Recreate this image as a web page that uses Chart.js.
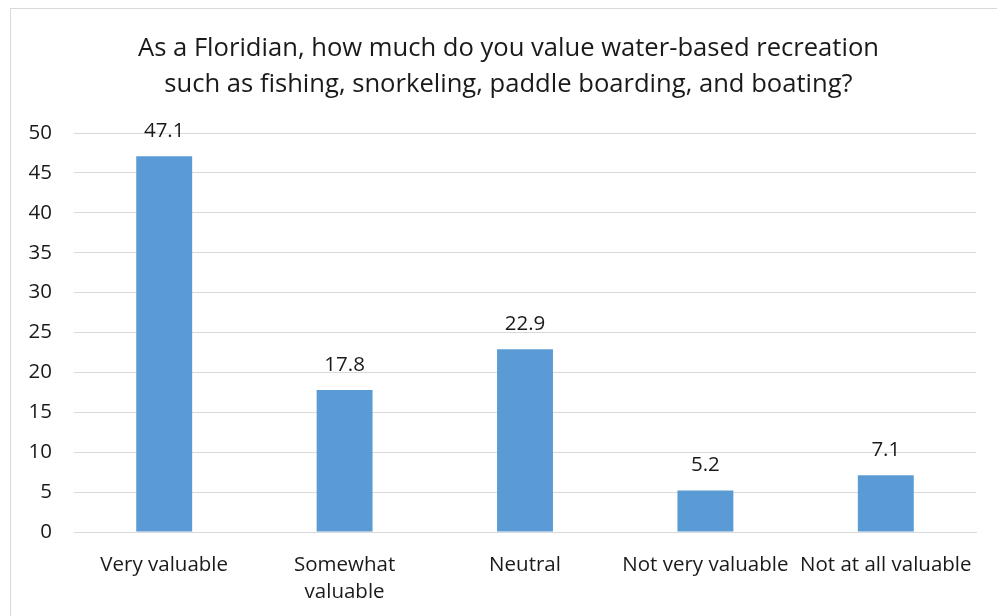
<!DOCTYPE html>
<html><head><meta charset="utf-8">
<script src="https://cdn.jsdelivr.net/npm/chart.js@4/dist/chart.umd.min.js"></script>
<style>
html,body{margin:0;padding:0;background:#fff;overflow:hidden}
#wrap{position:absolute;left:0;top:0;width:997px;height:616px}
#frame{position:absolute;left:10px;top:8px;width:1000px;height:620px;border:1px solid #d9d9d9;box-sizing:border-box}
canvas{position:absolute;left:0;top:0}
</style></head><body>
<div id="wrap"><div id="frame"></div><canvas id="c" width="997" height="616"></canvas></div>
<script>
const categories = [["Very valuable"], ["Somewhat", "valuable"], ["Neutral"], ["Not very valuable"], ["Not at all valuable"]];
const values = [47.1, 17.8, 22.9, 5.2, 7.1];
const yTicks = [0, 5, 10, 15, 20, 25, 30, 35, 40, 45, 50];
const titleLines = ["As a Floridian, how much do you value water-based recreation", "such as fishing, snorkeling, paddle boarding, and boating?"];

const FONT = "'Open Sans', sans-serif";
const TXT = "#1a1a1a";

const labelPlugin = {
  id: 'barLabels',
  afterDatasetsDraw(chart) {
    const ctx = chart.ctx;
    const meta = chart.getDatasetMeta(0);
    ctx.save();
    ctx.font = "20.5px " + FONT;
    ctx.fillStyle = TXT;
    ctx.textAlign = 'center';
    ctx.textBaseline = 'middle';
    meta.data.forEach((el, i) => {
      ctx.fillText(values[i].toFixed(1), el.x, el.y - 25);
    });
    ctx.restore();
  }
};

const titlePlugin = {
  id: 'customTitle',
  afterDraw(chart) {
    const ctx = chart.ctx;
    ctx.save();
    ctx.font = "25.6px " + FONT;
    ctx.fillStyle = TXT;
    ctx.textAlign = 'center';
    ctx.textBaseline = 'middle';
    const cx = (41 + chart.chartArea.right) / 2;
    titleLines.forEach((t, i) => ctx.fillText(t, cx, 49 + i * 36));
    ctx.restore();
  }
};

new Chart(document.getElementById('c'), {
  type: 'bar',
  data: {
    labels: categories,
    datasets: [{
      data: values,
      backgroundColor: '#5B9BD5',
      borderWidth: 0,
      categoryPercentage: 1,
      barPercentage: 0.31
    }]
  },
  options: {
    responsive: false,
    animation: false,
    devicePixelRatio: 1,
    layout: { padding: { left: 0, right: 21, top: 133, bottom: 0 } },
    plugins: {
      legend: { display: false },
      tooltip: { enabled: false },
      title: { display: false }
    },
    scales: {
      x: {
        afterFit(axis) { axis.height = 84; },
        grid: { display: false, drawTicks: false },
        border: { color: '#d9d9d9', width: 1 },
        ticks: { color: TXT, font: { family: FONT, size: 20.5, lineHeight: 1.32 }, padding: 20, maxRotation: 0, autoSkip: false }
      },
      y: {
        min: 0, max: 50,
        afterBuildTicks(axis) { axis.ticks = yTicks.map(v => ({ value: v })); },
        afterFit(axis) { axis.width = 74; },
        grid: { color: '#d9d9d9', lineWidth: 1, drawTicks: false },
        border: { display: false },
        ticks: { color: TXT, font: { family: FONT, size: 20.5 }, padding: 22 }
      }
    }
  },
  plugins: [labelPlugin, titlePlugin]
});
</script>
</body></html>
